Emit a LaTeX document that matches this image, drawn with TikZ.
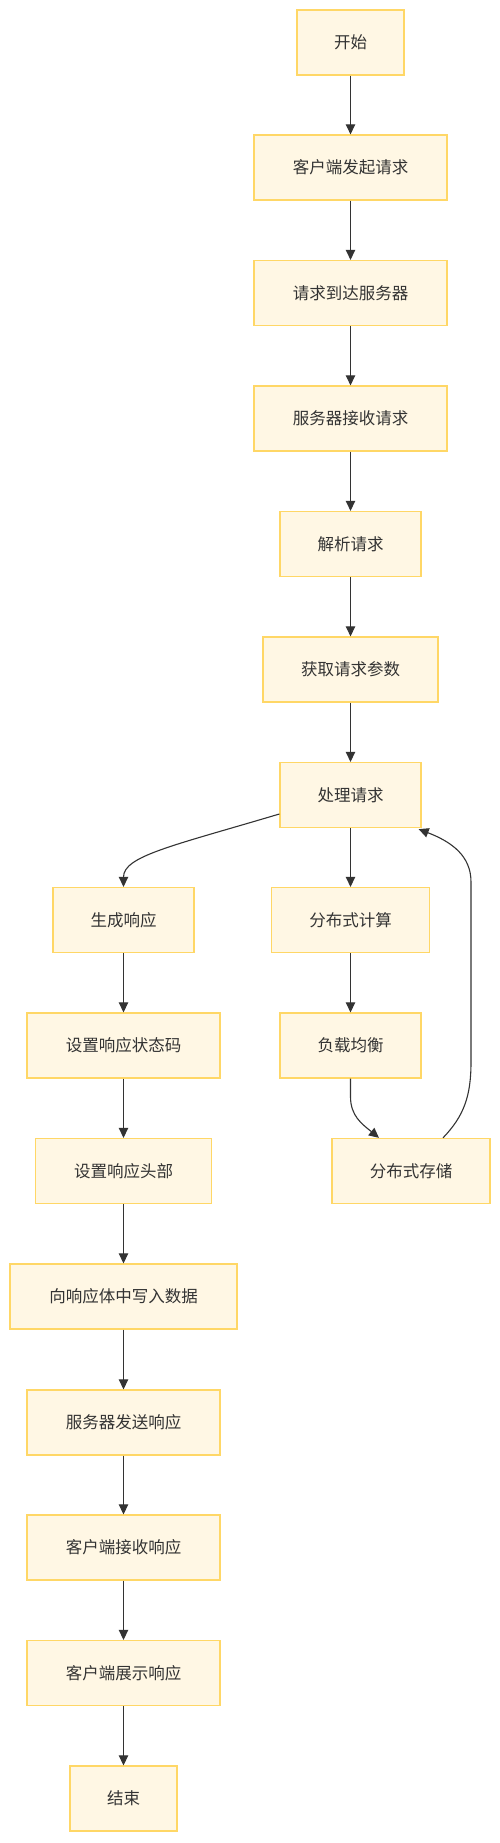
\documentclass[tikz,border=0pt]{standalone}
\usepackage{fontspec}
\newfontfamily\cjk{Noto Sans CJK SC}
\usetikzlibrary{arrows.meta}
\definecolor{boxfill}{HTML}{FFF7E4}
\definecolor{boxline}{HTML}{FFD766}
\definecolor{ink}{HTML}{333333}
\tikzset{
  flowbox/.style={draw=boxline, fill=boxfill, line width=1.3pt, minimum height=65pt,
    inner sep=0pt, text=ink, font=\cjk\fontsize{16.5}{18}\selectfont},
  flowarrow/.style={draw=ink, line width=1.1pt, -{Triangle[length=10pt,width=9.5pt]}}
}
\begin{document}
\begin{tikzpicture}[x=1pt,y=-1pt]
\useasboundingbox (0,0) rectangle (500,1843);
% right/main column x=350.5, left column x=123.5
\node[flowbox, minimum width=107pt] (start) at (350.5,42.5) {开始};
\node[flowbox, minimum width=193pt] (send) at (350.5,167.5) {客户端发起请求};
\node[flowbox, minimum width=193pt] (arrive) at (350.5,293) {请求到达服务器};
\node[flowbox, minimum width=193pt] (recv) at (350.5,418.5) {服务器接收请求};
\node[flowbox, minimum width=141pt] (parse) at (350.5,544) {解析请求};
\node[flowbox, minimum width=175pt] (params) at (350.5,669.5) {获取请求参数};
\node[flowbox, minimum width=141pt] (proc) at (350.5,795) {处理请求};
\node[flowbox, minimum width=141pt] (gen) at (123.5,920) {生成响应};
\node[flowbox, minimum width=158pt] (dcomp) at (350.5,920) {分布式计算};
\node[flowbox, minimum width=141pt] (lb) at (350.5,1045.5) {负载均衡};
\node[flowbox, minimum width=158pt] (stor) at (411,1171) {分布式存储};
\node[flowbox, minimum width=193pt] (status) at (123.5,1045.5) {设置响应状态码};
\node[flowbox, minimum width=175.5pt] (head) at (123.5,1171) {设置响应头部};
\node[flowbox, minimum width=227pt] (body) at (123.5,1296.5) {向响应体中写入数据};
\node[flowbox, minimum width=193pt] (ssend) at (123.5,1422.5) {服务器发送响应};
\node[flowbox, minimum width=193pt] (crecv) at (123.5,1547.5) {客户端接收响应};
\node[flowbox, minimum width=193pt] (cshow) at (123.5,1673) {客户端展示响应};
\node[flowbox, minimum width=107pt] (end) at (123.5,1798.5) {结束};

\draw[flowarrow] (start) -- (send);
\draw[flowarrow] (send) -- (arrive);
\draw[flowarrow] (arrive) -- (recv);
\draw[flowarrow] (recv) -- (parse);
\draw[flowarrow] (parse) -- (params);
\draw[flowarrow] (params) -- (proc);
\draw[flowarrow] (proc.south) -- (dcomp.north);
\draw[flowarrow] ([yshift=-19pt]proc.west) .. controls (172,846) and (123.5,856) .. (gen.north);
\draw[flowarrow] (dcomp) -- (lb);
\draw[flowarrow] (lb.south) -- ++(0,18) .. controls (350.5,1116) and (362,1124) .. ([xshift=-32pt]stor.north);
\draw[flowarrow] ([xshift=32pt]stor.north) .. controls (464,1116) and (471,1096) .. (471,1062) -- (471,882) .. controls (471,856) and (452,842) .. ([xshift=-3pt,yshift=-1pt]proc.south east);
\draw[flowarrow] (gen) -- (status);
\draw[flowarrow] (status) -- (head);
\draw[flowarrow] (head) -- (body);
\draw[flowarrow] (body) -- (ssend);
\draw[flowarrow] (ssend) -- (crecv);
\draw[flowarrow] (crecv) -- (cshow);
\draw[flowarrow] (cshow) -- (end);
\end{tikzpicture}
\end{document}
